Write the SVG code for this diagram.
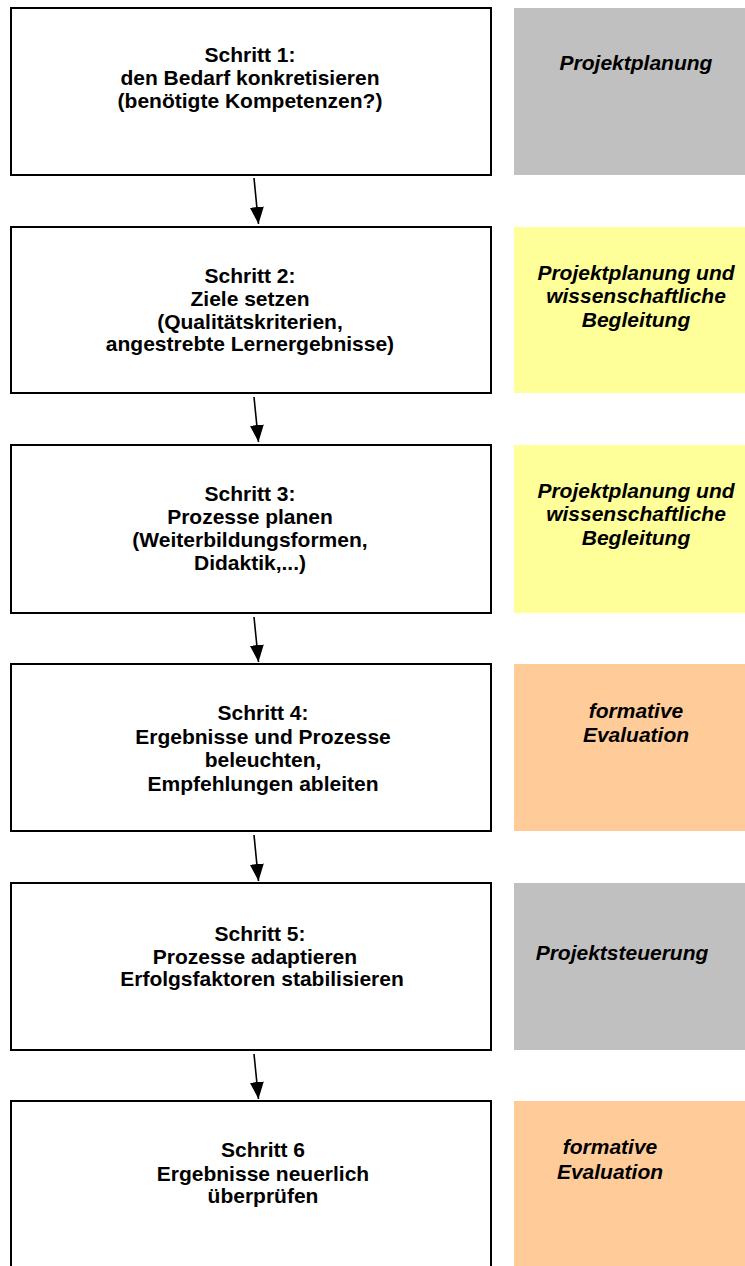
<svg xmlns="http://www.w3.org/2000/svg" width="745" height="1266" viewBox="0 0 745 1266">
<style>
.box{fill:#ffffff;stroke:#000000;stroke-width:2}
.grey{fill:#C0C0C0}
.yellow{fill:#FFFF99}
.orange{fill:#FFCC99}
.t{font-family:"Liberation Sans",Arial,sans-serif;font-weight:bold;font-size:21px;fill:#000000;text-anchor:middle}
.ti{font-family:"Liberation Sans",Arial,sans-serif;font-weight:bold;font-style:italic;font-size:21px;fill:#000000;text-anchor:middle}
.conn{stroke:#000000;stroke-width:1.6;fill:none;marker-end:url(#ah)}
</style>
<defs>
<marker id="ah" viewBox="0 0 17 14" refX="17" refY="7" markerWidth="17" markerHeight="14" markerUnits="userSpaceOnUse" orient="auto">
<path d="M0,0 L17,7 L0,14 Z" fill="#000000"/>
</marker>
</defs>
<rect width="745" height="1266" fill="#ffffff"/>

<g id="step1">
<rect class="box" x="11" y="8" width="480" height="167"/>
<text class="t" x="250" y="62">Schritt 1:</text>
<text class="t" x="250" y="85">den Bedarf konkretisieren</text>
<text class="t" x="250" y="108">(benötigte Kompetenzen?)</text>
</g>
<g id="role1">
<rect class="grey" x="514" y="8" width="231" height="167"/>
<text class="ti" x="636" y="70">Projektplanung</text>
</g>

<g id="step2">
<rect class="box" x="11" y="227" width="480" height="166"/>
<text class="t" x="250" y="283">Schritt 2:</text>
<text class="t" x="250" y="306">Ziele setzen</text>
<text class="t" x="250" y="329">(Qualitätskriterien,</text>
<text class="t" x="250" y="351">angestrebte Lernergebnisse)</text>
</g>
<g id="role2">
<rect class="yellow" x="514" y="227" width="231" height="166"/>
<text class="ti" x="636" y="280">Projektplanung und</text>
<text class="ti" x="636" y="303">wissenschaftliche</text>
<text class="ti" x="636" y="327">Begleitung</text>
</g>

<g id="step3">
<rect class="box" x="11" y="445" width="480" height="168"/>
<text class="t" x="250" y="501">Schritt 3:</text>
<text class="t" x="250" y="524">Prozesse planen</text>
<text class="t" x="250" y="547">(Weiterbildungsformen,</text>
<text class="t" x="250" y="570">Didaktik,...)</text>
</g>
<g id="role3">
<rect class="yellow" x="514" y="445" width="231" height="168"/>
<text class="ti" x="636" y="498">Projektplanung und</text>
<text class="ti" x="636" y="521">wissenschaftliche</text>
<text class="ti" x="636" y="545">Begleitung</text>
</g>

<g id="step4">
<rect class="box" x="11" y="664" width="480" height="167"/>
<text class="t" x="263" y="720">Schritt 4:</text>
<text class="t" x="263" y="744">Ergebnisse und Prozesse</text>
<text class="t" x="263" y="767">beleuchten,</text>
<text class="t" x="263" y="791">Empfehlungen ableiten</text>
</g>
<g id="role4">
<rect class="orange" x="514" y="664" width="231" height="167"/>
<text class="ti" x="636" y="718">formative</text>
<text class="ti" x="636" y="742">Evaluation</text>
</g>

<g id="step5">
<rect class="box" x="11" y="883" width="480" height="167"/>
<text class="t" x="260" y="941">Schritt 5:</text>
<text class="t" x="255" y="964">Prozesse adaptieren</text>
<text class="t" x="262" y="986">Erfolgsfaktoren stabilisieren</text>
</g>
<g id="role5">
<rect class="grey" x="514" y="883" width="231" height="167"/>
<text class="ti" x="622" y="960">Projektsteuerung</text>
</g>

<g id="step6">
<rect class="box" x="11" y="1101" width="480" height="170"/>
<text class="t" x="263" y="1157">Schritt 6</text>
<text class="t" x="263" y="1181">Ergebnisse neuerlich</text>
<text class="t" x="263" y="1203">überprüfen</text>
</g>
<g id="role6">
<rect class="orange" x="514" y="1101" width="231" height="170"/>
<text class="ti" x="610" y="1154">formative</text>
<text class="ti" x="610" y="1179">Evaluation</text>
</g>

<g id="connectors">
<line class="conn" x1="254" y1="178" x2="258.5" y2="224"/>
<line class="conn" x1="254" y1="397" x2="258.5" y2="442"/>
<line class="conn" x1="254" y1="617" x2="258.5" y2="662"/>
<line class="conn" x1="254" y1="835" x2="258.5" y2="881"/>
<line class="conn" x1="254" y1="1054" x2="258.5" y2="1099"/>
</g>
</svg>
